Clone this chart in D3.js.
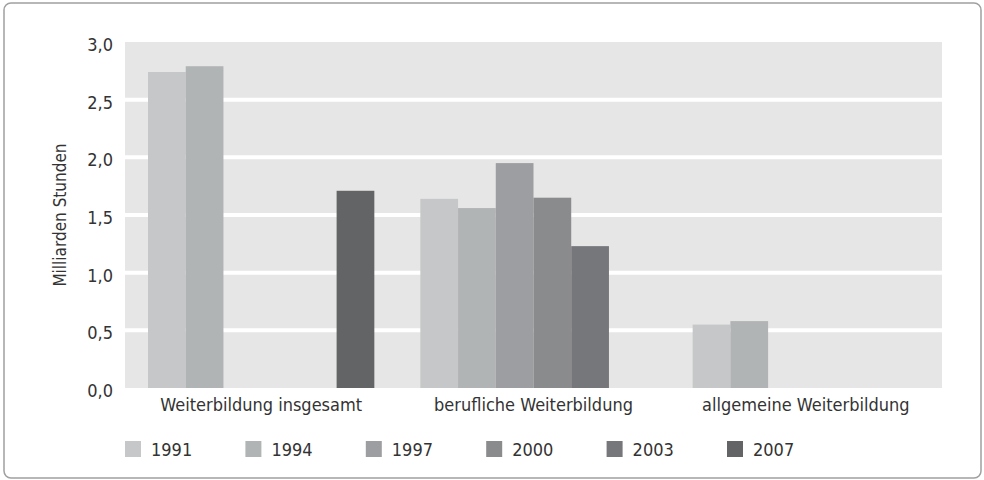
<!DOCTYPE html>
<html lang="de">
  <head>
    <meta charset="UTF-8" />
    <title>Weiterbildung in Milliarden Stunden</title>
    <script src="https://d3js.org/d3.v7.min.js"></script>
    <style>
      body {
        margin: 0;
        background: #fff;
      }
      svg text {
        font-family: 'Liberation Sans Narrow', 'DejaVu Sans Condensed', sans-serif;
        fill: #333;
      }
    </style>
  </head>
  <body>
    <svg width="984" height="480"></svg>

    <script>
      const categories = [
        'Weiterbildung insgesamt',
        'berufliche Weiterbildung',
        'allgemeine Weiterbildung',
      ];
      const years = ['1991', '1994', '1997', '2000', '2003', '2007'];

      // one array per year, in the order of categories (null = no bar)
      const v1991 = [2.74, 1.64, 0.55];
      const v1994 = [2.79, 1.56, 0.58];
      const v1997 = [null, 1.95, null];
      const v2000 = [null, 1.65, null];
      const v2003 = [null, 1.23, null];
      const v2007 = [1.71, null, null];

      const yTicks = [0, 0.5, 1, 1.5, 2, 2.5, 3];
      const colors = ['#c6c7c8', '#b1b4b4', '#9d9ea1', '#8a8b8c', '#76777a', '#636466'];

      const series = [v1991, v1994, v1997, v2000, v2003, v2007];

      const svg = d3.select('svg');
      const margin = { left: 125, right: 42, top: 42, bottom: 92 };
      const width = 984, height = 480;

      // outer frame
      svg
        .append('rect')
        .attr('x', 4)
        .attr('y', 3)
        .attr('width', 977)
        .attr('height', 475)
        .attr('rx', 7)
        .attr('fill', 'none')
        .attr('stroke', '#a0a0a0')
        .attr('stroke-width', 1.5);

      const x0 = d3
        .scaleBand()
        .domain(categories)
        .range([margin.left, width - margin.right])
        .padding(0);

      const x1 = d3
        .scaleBand()
        .domain(years)
        .range([23, x0.bandwidth() - 23])
        .padding(0);

      const y = d3
        .scaleLinear()
        .domain([0, 3])
        .range([height - margin.bottom, margin.top]);

      const color = d3.scaleOrdinal().domain(years).range(colors);

      // plot background
      svg
        .append('rect')
        .attr('x', margin.left)
        .attr('y', y(3))
        .attr('width', width - margin.right - margin.left)
        .attr('height', y(0) - y(3))
        .attr('fill', '#e6e6e6');

      // gridlines
      svg
        .append('g')
        .selectAll('line')
        .data(yTicks.filter((t) => t > 0 && t < 3))
        .enter()
        .append('line')
        .attr('x1', margin.left)
        .attr('x2', width - margin.right)
        .attr('y1', (d) => y(d))
        .attr('y2', (d) => y(d))
        .attr('stroke', '#fff')
        .attr('stroke-width', 4);

      // y tick labels
      svg
        .append('g')
        .selectAll('text')
        .data(yTicks)
        .enter()
        .append('text')
        .attr('x', margin.left - 12)
        .attr('y', (d) => y(d))
        .attr('dy', '0.5em')
        .attr('text-anchor', 'end')
        .style('font-size', '18px')
        .text((d) => d3.format('.1f')(d).replace('.', ','));

      // bars
      const rows = [];
      categories.forEach((c, i) => {
        years.forEach((yr, j) => {
          if (series[j][i] != null) rows.push({ cat: c, year: yr, value: series[j][i] });
        });
      });

      svg
        .append('g')
        .selectAll('rect')
        .data(rows)
        .enter()
        .append('rect')
        .attr('x', (d) => x0(d.cat) + x1(d.year))
        .attr('width', x1.bandwidth())
        .attr('y', (d) => y(d.value))
        .attr('height', (d) => y(0) - y(d.value))
        .attr('fill', (d) => color(d.year));

      // category labels
      svg
        .append('g')
        .selectAll('text')
        .data(categories)
        .enter()
        .append('text')
        .attr('x', (d) => x0(d) + x0.bandwidth() / 2)
        .attr('y', 411)
        .attr('text-anchor', 'middle')
        .style('font-size', '18px')
        .text((d) => d);

      // y axis title
      svg
        .append('text')
        .attr('transform', `translate(66,${(y(0) + y(3)) / 2}) rotate(-90)`)
        .attr('text-anchor', 'middle')
        .style('font-size', '17px')
        .text('Milliarden Stunden');

      // legend
      const lx = d3.scalePoint().domain(years).range([125, 727]);
      const legend = svg
        .append('g')
        .selectAll('g')
        .data(years)
        .enter()
        .append('g')
        .attr('transform', (d) => `translate(${lx(d)},441)`);

      legend
        .append('rect')
        .attr('width', 16)
        .attr('height', 16)
        .attr('fill', (d) => color(d));

      legend
        .append('text')
        .attr('x', 26)
        .attr('y', 15)
        .style('font-size', '18px')
        .text((d) => d);
    </script>
  </body>
</html>
